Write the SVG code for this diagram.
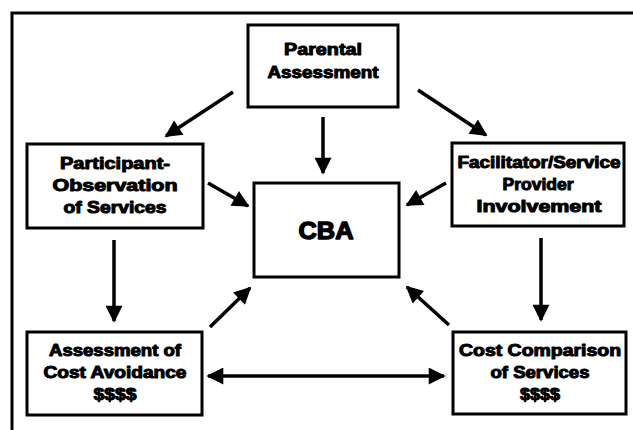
<svg xmlns="http://www.w3.org/2000/svg" width="633" height="430" viewBox="0 0 633 430">
  <style>
    .box { fill: #fff; stroke: #000; stroke-width: 3; }
    .frame { fill: none; stroke: #000; stroke-width: 3; }
    .lbl { font-family: "Liberation Sans", Arial, sans-serif; font-weight: bold; font-size: 16px; fill: #000; stroke: #000; stroke-width: 1; stroke-linejoin: round; text-anchor: middle; }
    .big { font-size: 24px; stroke-width: 1.4; }
    .arrow { stroke: #000; stroke-width: 3.5; fill: none; marker-end: url(#head); }
  </style>
  <defs>
    <marker id="head" viewBox="0 0 10 10" refX="9" refY="5" markerUnits="userSpaceOnUse" markerWidth="18" markerHeight="17" orient="auto-start-reverse">
      <path d="M0,0 L10,5 L0,10 Z" fill="#000"/>
    </marker>
  </defs>
  <rect width="633" height="430" fill="#fff"/>

  <!-- outer frame, running off the right and bottom edges -->
  <path class="frame" d="M12,440 L12,13 L640,13"/>

  <g id="parental">
    <rect class="box" x="248" y="25" width="150" height="82"/>
    <text class="lbl" x="323" y="55" textLength="78" lengthAdjust="spacingAndGlyphs">Parental</text>
    <text class="lbl" x="323" y="78" textLength="111" lengthAdjust="spacingAndGlyphs">Assessment</text>
  </g>

  <g id="participant">
    <rect class="box" x="27" y="144" width="176" height="84"/>
    <text class="lbl" x="115" y="169" textLength="110" lengthAdjust="spacingAndGlyphs">Participant-</text>
    <text class="lbl" x="115" y="191" textLength="125" lengthAdjust="spacingAndGlyphs">Observation</text>
    <text class="lbl" x="115" y="213" textLength="103" lengthAdjust="spacingAndGlyphs">of Services</text>
  </g>

  <g id="facilitator">
    <rect class="box" x="452" y="143" width="172" height="83"/>
    <text class="lbl" x="539" y="168" textLength="163" lengthAdjust="spacingAndGlyphs">Facilitator/Service</text>
    <text class="lbl" x="538" y="190" textLength="71" lengthAdjust="spacingAndGlyphs">Provider</text>
    <text class="lbl" x="539" y="212" textLength="125" lengthAdjust="spacingAndGlyphs">Involvement</text>
  </g>

  <g id="cba">
    <rect class="box" x="254" y="183" width="145" height="94"/>
    <text class="lbl big" x="326" y="239" textLength="55" lengthAdjust="spacingAndGlyphs">CBA</text>
  </g>

  <g id="cost-avoidance">
    <rect class="box" x="27" y="332" width="175" height="83"/>
    <text class="lbl" x="115" y="356" textLength="132" lengthAdjust="spacingAndGlyphs">Assessment of</text>
    <text class="lbl" x="115" y="378" textLength="143" lengthAdjust="spacingAndGlyphs">Cost Avoidance</text>
    <text class="lbl" x="115" y="400" textLength="43" lengthAdjust="spacingAndGlyphs">$$$$</text>
  </g>

  <g id="cost-comparison">
    <rect class="box" x="453" y="332" width="173" height="82"/>
    <text class="lbl" x="540" y="356" textLength="162" lengthAdjust="spacingAndGlyphs">Cost Comparison</text>
    <text class="lbl" x="540" y="378" textLength="99" lengthAdjust="spacingAndGlyphs">of Services</text>
    <text class="lbl" x="540" y="400" textLength="40" lengthAdjust="spacingAndGlyphs">$$$$</text>
  </g>

  <g id="connectors">
    <line class="arrow" x1="233" y1="92" x2="166" y2="136"/>
    <line class="arrow" x1="323" y1="117" x2="323" y2="173"/>
    <line class="arrow" x1="418" y1="90" x2="486" y2="135"/>
    <line class="arrow" x1="208" y1="183" x2="248" y2="206"/>
    <line class="arrow" x1="446" y1="183" x2="407" y2="205"/>
    <line class="arrow" x1="114" y1="240" x2="114" y2="321"/>
    <line class="arrow" x1="541" y1="238" x2="541" y2="320"/>
    <line class="arrow" x1="210" y1="327" x2="250" y2="288"/>
    <line class="arrow" x1="449" y1="325" x2="407" y2="287"/>
    <line class="arrow" x1="208" y1="376" x2="444" y2="376" style="marker-start: url(#head)"/>
  </g>
</svg>
